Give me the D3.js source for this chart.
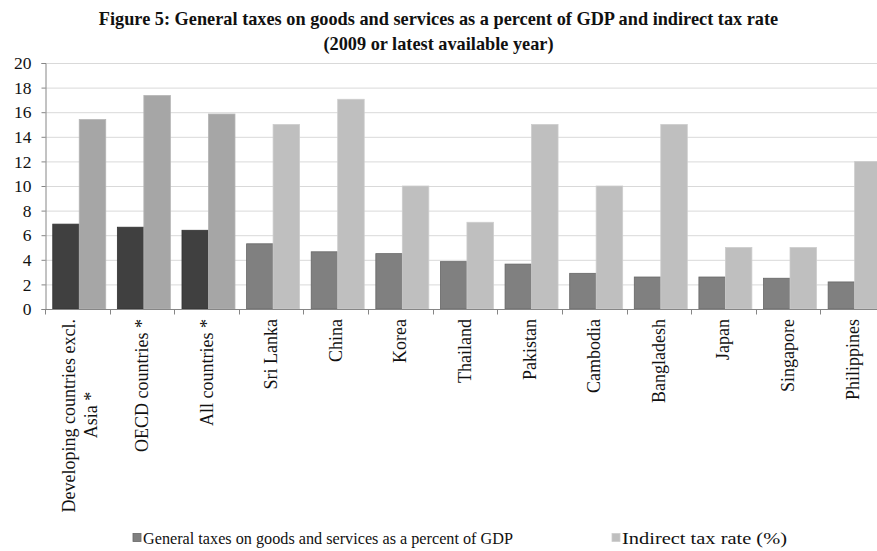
<!DOCTYPE html>
<html>
<head>
<meta charset="utf-8">
<script src="https://cdn.jsdelivr.net/npm/d3@7"></script>
<style>
  html, body { margin: 0; padding: 0; background: #fff; }
  svg { display: block; font-family: "Liberation Serif", "Times New Roman", serif; }
</style>
</head>
<body>
<svg id="chart" width="877" height="551"></svg>
<script>
// Categories along the x axis (multi-line labels use "\n")
const categories = [
  "Developing countries excl.\nAsia *", "OECD countries *", "All countries *",
  "Sri Lanka", "China", "Korea", "Thailand", "Pakistan", "Cambodia",
  "Bangladesh", "Japan", "Singapore", "Philippines"
];
// Aggregates (marked *) are shaded darker than individual countries
const aggregateCount = 3;

const seriesNames = [
  "General taxes on goods and services as a percent of GDP",
  "Indirect tax rate (%)"
];
const generalTaxes = [6.9, 6.65, 6.4, 5.3, 4.65, 4.5, 3.85, 3.65, 2.9, 2.6, 2.6, 2.5, 2.2];
const indirectRate = [15.4, 17.35, 15.85, 15.0, 17.05, 10.0, 7.05, 15.0, 10.0, 15.0, 5.0, 5.0, 12.0];
const yTicks = [0, 2, 4, 6, 8, 10, 12, 14, 16, 18, 20];

const titleLines = [
  "Figure 5: General taxes on goods and services as a percent of GDP and indirect tax rate",
  "(2009 or latest available year)"
];

const svg = d3.select("#chart");
const W = 877;

const plot = { left: 45, right: 885, top: 63, bottom: 309 };

const x = d3.scaleBand().domain(categories).range([plot.left, plot.right]).padding(0);
const bw = x.bandwidth();
const inner = d3.scaleBand().domain([0, 1]).range([0.12 * bw, 0.94 * bw]).padding(0);
const y = d3.scaleLinear().domain([0, 20]).range([plot.bottom, plot.top]);

// Title
svg.append("g").selectAll("text").data(titleLines).join("text")
  .attr("x", W / 2).attr("y", (d, i) => 25 + i * 25)
  .attr("text-anchor", "middle")
  .attr("font-weight", "bold").attr("font-size", 18.3).attr("fill", "#111")
  .text(d => d);

// Horizontal gridlines
svg.append("g").selectAll("line").data(yTicks.filter(t => t > 0)).join("line")
  .attr("x1", plot.left).attr("x2", W)
  .attr("y1", d => y(d) + 0.5).attr("y2", d => y(d) + 0.5)
  .attr("stroke", "#d9d9d9").attr("stroke-width", 1);

// Bars
const palette = {
  dark: ["#404040", "#808080"],
  light: ["#a6a6a6", "#bfbfbf"]
};
const rows = categories.map((c, i) => ({ c, i, v: [generalTaxes[i], indirectRate[i]] }));
const groups = svg.append("g").selectAll("g").data(rows).join("g")
  .attr("transform", d => `translate(${x(d.c)},0)`);
groups.selectAll("rect").data(d => d.v.map((v, s) => ({ v, s, agg: d.i < aggregateCount })))
  .join("rect")
  .attr("x", d => inner(d.s))
  .attr("width", inner.bandwidth())
  .attr("y", d => y(d.v))
  .attr("height", d => y(0) - y(d.v))
  .attr("fill", d => d.s === 0 ? palette.dark[d.agg ? 0 : 1] : palette.light[d.agg ? 0 : 1])
  .attr("stroke", d => d.s === 0 ? (d.agg ? "#333" : "#666") : (d.agg ? "#b4b4b4" : "#cdcdcd"))
  .attr("stroke-width", 0.8);

// Y axis
const yAxis = svg.append("g")
  .attr("transform", `translate(${plot.left + 0.5},0)`)
  .call(d3.axisLeft(y).tickValues(yTicks).tickSize(4).tickPadding(10));
yAxis.select(".domain").attr("stroke", "#868686");
yAxis.selectAll(".tick line").attr("stroke", "#868686");
yAxis.selectAll(".tick text")
  .attr("font-family", "Liberation Serif, Times New Roman, serif")
  .attr("font-size", 17.5).attr("fill", "#111");

// X axis: baseline plus boundary ticks between categories
const xAxis = svg.append("g").attr("transform", `translate(0,${plot.bottom + 0.5})`);
xAxis.append("line").attr("x1", plot.left).attr("x2", W)
  .attr("stroke", "#868686");
const bounds = categories.map(c => x(c)).concat([plot.right]).filter(v => v <= W);
xAxis.selectAll("line.tk").data(bounds).join("line").attr("class", "tk")
  .attr("x1", d => Math.round(d) + 0.5).attr("x2", d => Math.round(d) + 0.5)
  .attr("y1", 0).attr("y2", 5).attr("stroke", "#868686");

// Rotated category labels
const labels = svg.append("g").selectAll("text").data(categories).join("text")
  .attr("transform", d => {
    const n = d.split("\n").length;
    const cx = x(d) + bw / 2 + 6 - (n - 1) * 8;
    return `translate(${cx},${plot.bottom + 10}) rotate(-90)`;
  })
  .attr("text-anchor", "end")
  .attr("font-size", 18).attr("fill", "#111");
labels.each(function(d) {
  const t = d3.select(this);
  d.split("\n").forEach((line, i) => {
    t.append("tspan").attr("x", 0).attr("dy", i === 0 ? 0 : 22)
      .attr("text-anchor", i === 0 ? "end" : "middle")
      .attr("dx", i === 0 ? 0 : -96)
      .text(line);
  });
});

// Legend
const legendItems = [
  { name: seriesNames[0], color: palette.dark[1], x: 133, len: 370 },
  { name: seriesNames[1], color: palette.light[1], x: 612, len: 165 }
];
const lg = svg.append("g").selectAll("g").data(legendItems).join("g")
  .attr("transform", d => `translate(${d.x},538)`);
lg.append("rect").attr("x", 0).attr("y", -4.5).attr("width", 8).attr("height", 8)
  .attr("fill", d => d.color).attr("stroke", d => d === legendItems[0] ? "#666" : "#cdcdcd")
  .attr("stroke-width", 0.8);
lg.append("text").attr("x", 10).attr("y", 6)
  .attr("font-size", 17.5).attr("fill", "#111")
  .attr("textLength", d => d.len).attr("lengthAdjust", "spacingAndGlyphs")
  .text(d => d.name);
</script>
</body>
</html>
